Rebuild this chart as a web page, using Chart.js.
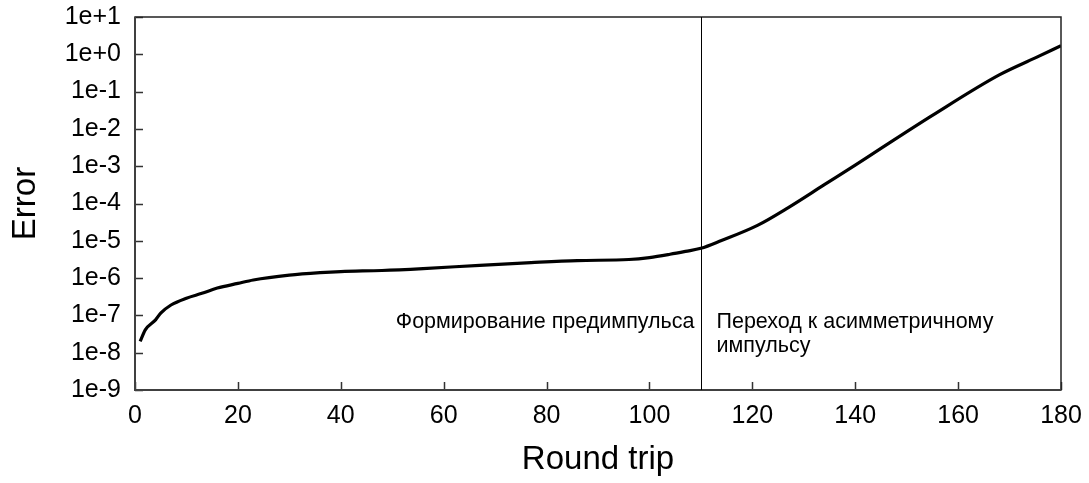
<!DOCTYPE html>
<html>
<head>
<meta charset="utf-8">
<script src="https://cdn.jsdelivr.net/npm/chart.js@4.4.1/dist/chart.umd.min.js"></script>
<style>
  html, body { margin: 0; padding: 0; background: #fff; }
  #wrap { width: 1089px; height: 483px; position: relative; }
</style>
</head>
<body>
<div id="wrap"><canvas id="errChart"></canvas></div>
<script>
// ── Data ──────────────────────────────────────────────────────────────────
const rounds = [1, 2, 4, 5, 7, 10, 13, 16, 20, 23, 30, 36, 40, 48, 56, 67, 77, 86, 96, 100,
                104, 107, 110, 114, 121, 127, 134, 140, 145, 155, 168, 175, 180];
const errors = [2.0e-8, 4.1e-8, 7.6e-8, 1.15e-7, 1.9e-7, 2.9e-7, 3.9e-7, 5.4e-7, 7.2e-7, 8.9e-7,
                1.2e-6, 1.4e-6, 1.5e-6, 1.6e-6, 1.8e-6, 2.2e-6, 2.6e-6, 2.95e-6, 3.15e-6, 3.55e-6,
                4.35e-6, 5.2e-6, 6.3e-6, 1.02e-5, 2.6e-5, 7.8e-5, 3.2e-4, 1.07e-3, 3.0e-3, 2.3e-2,
                0.28, 0.8, 1.7];

const yTicks = [1e-9, 1e-8, 1e-7, 1e-6, 1e-5, 1e-4, 1e-3, 1e-2, 1e-1, 1e0, 1e1];
const yTickLabels = ['1e-9', '1e-8', '1e-7', '1e-6', '1e-5', '1e-4', '1e-3', '1e-2', '1e-1', '1e+0', '1e+1'];
const xTicks = [0, 20, 40, 60, 80, 100, 120, 140, 160, 180];

const splitRound = 110;
const leftLabel = ['Формирование предимпульса'];
const rightLabel = ['Переход к асимметричному', 'импульсу'];
const labelLevel = 4.5e-8;

const FONT = "'Liberation Sans', Arial, sans-serif";

// frame, inward ticks, split line and phase labels
const decorPlugin = {
    id: 'decor',
    afterDraw(chart) {
        const { ctx, chartArea: a, scales: { x, y } } = chart;
        ctx.save();

        // inward tick marks
        ctx.strokeStyle = '#333';
        ctx.lineWidth = 1.5;
        ctx.beginPath();
        yTicks.forEach(v => {
            const py = Math.round(y.getPixelForValue(v)) + 0.5;
            ctx.moveTo(a.left, py);
            ctx.lineTo(a.left + 8, py);
        });
        xTicks.forEach(v => {
            const px = Math.round(x.getPixelForValue(v)) + 0.5;
            ctx.moveTo(px, a.bottom);
            ctx.lineTo(px, a.bottom - 8);
        });
        ctx.stroke();

        // frame
        ctx.strokeStyle = '#222';
        ctx.lineWidth = 1.5;
        ctx.strokeRect(a.left, a.top, a.right - a.left, a.bottom - a.top);
        ctx.lineWidth = 2;
        ctx.strokeStyle = '#404040';
        ctx.beginPath();
        ctx.moveTo(a.left, a.top);
        ctx.lineTo(a.left, a.bottom);
        ctx.lineTo(a.right, a.bottom);
        ctx.stroke();

        // split line
        const sx = Math.round(x.getPixelForValue(splitRound)) + 0.5;
        ctx.strokeStyle = '#000';
        ctx.lineWidth = 1;
        ctx.beginPath();
        ctx.moveTo(sx, a.top);
        ctx.lineTo(sx, a.bottom);
        ctx.stroke();

        // phase labels
        const ly = y.getPixelForValue(labelLevel);
        ctx.fillStyle = '#000';
        ctx.font = '21.5px ' + FONT;
        ctx.textBaseline = 'alphabetic';
        ctx.textAlign = 'right';
        leftLabel.forEach((t, i) => ctx.fillText(t, sx - 7, ly + i * 24));
        ctx.textAlign = 'left';
        rightLabel.forEach((t, i) => ctx.fillText(t, sx + 15, ly + i * 24));

        ctx.restore();
    }
};

new Chart(document.getElementById('errChart'), {
    type: 'line',
    data: {
        datasets: [{
            data: rounds.map((r, i) => ({ x: r, y: errors[i] })),
            borderColor: '#000',
            borderWidth: 3.2,
            pointRadius: 0,
            fill: false,
            cubicInterpolationMode: 'monotone'
        }]
    },
    options: {
        responsive: true,
        maintainAspectRatio: false,
        animation: false,
        layout: { padding: { top: 17, right: 28, left: 0, bottom: 0 } },
        plugins: {
            legend: { display: false },
            tooltip: { enabled: false }
        },
        scales: {
            x: {
                type: 'linear',
                min: 0,
                max: 180,
                afterBuildTicks: s => { s.ticks = xTicks.map(v => ({ value: v })); },
                afterFit: s => { s.height = 93; s.paddingLeft = 0; s.paddingRight = 0; },
                grid: { display: false, drawTicks: false },
                border: { display: false },
                ticks: {
                    padding: 11,
                    color: '#000',
                    font: { family: FONT, size: 25 },
                    maxRotation: 0
                },
                title: {
                    display: true,
                    text: 'Round trip',
                    color: '#000',
                    font: { family: FONT, size: 33 },
                    padding: { top: 0, bottom: 3 }
                }
            },
            y: {
                type: 'logarithmic',
                min: 1e-9,
                max: 10,
                afterBuildTicks: s => { s.ticks = yTicks.map(v => ({ value: v })); },
                afterFit: s => { s.width = 135; s.paddingTop = 0; s.paddingBottom = 0; },
                grid: { display: false, drawTicks: false },
                border: { display: false },
                ticks: {
                    padding: 14,
                    color: '#000',
                    font: { family: FONT, size: 25 },
                    callback: v => yTickLabels[yTicks.findIndex(t => Math.abs(Math.log10(t) - Math.log10(v)) < 1e-6)]
                },
                title: {
                    display: true,
                    text: 'Error',
                    color: '#000',
                    font: { family: FONT, size: 33 },
                    padding: { top: 6, bottom: 0 }
                }
            }
        }
    },
    plugins: [decorPlugin]
});
</script>
</body>
</html>
